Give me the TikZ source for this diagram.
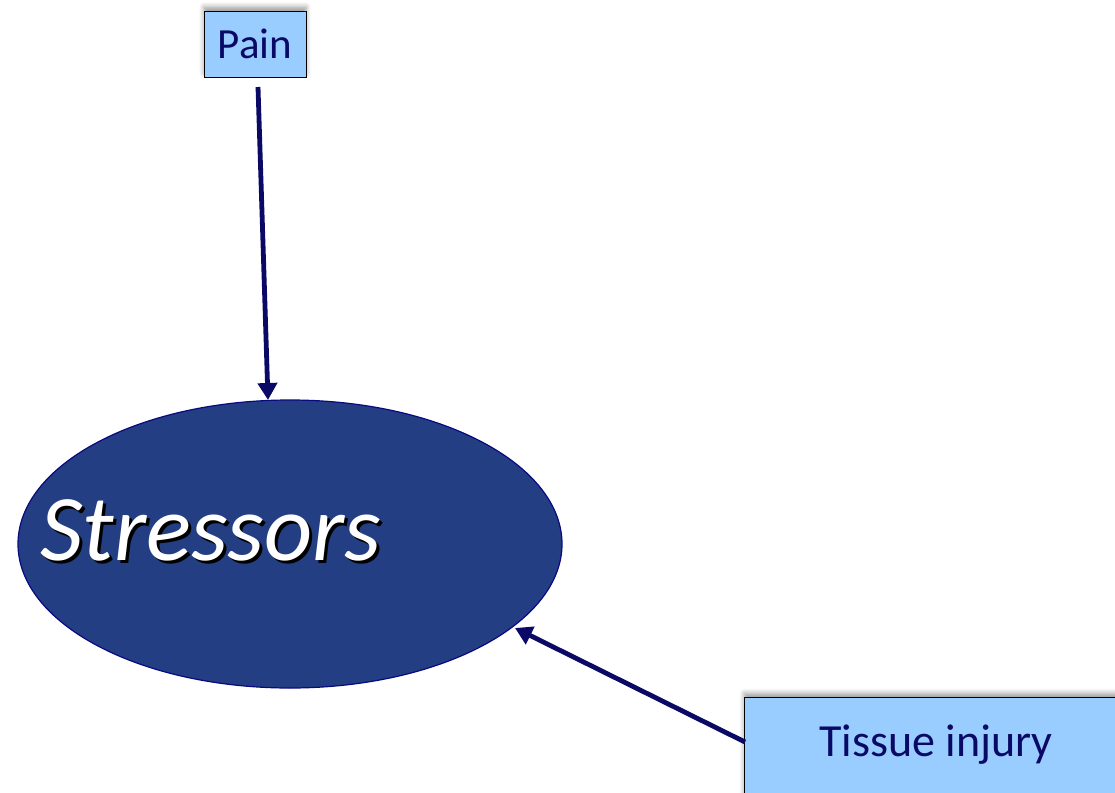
\documentclass[tikz,border=0pt]{standalone}
\usepackage{fontspec}
\setmainfont{Carlito}
\usetikzlibrary{arrows.meta,shadows.blur}
\definecolor{boxblue}{HTML}{99CCFF}
\definecolor{navytext}{HTML}{0A0A66}
\definecolor{ellfill}{HTML}{233E82}
\definecolor{ellline}{HTML}{0A0A80}
\definecolor{arrowcol}{HTML}{0A0A66}
\tikzset{
  labelbox/.style={draw=black, line width=0.8pt, fill=boxblue, text=navytext,
    blur shadow={shadow xshift=0pt, shadow yshift=4pt, shadow blur steps=6, shadow blur radius=5pt, shadow opacity=40}},
  link/.style={draw=arrowcol, line width=4.8pt, -{Triangle[length=17pt,width=19pt]}}
}
\begin{document}
\begin{tikzpicture}[x=1pt,y=-1pt]
\useasboundingbox (0,0) rectangle (1115,792);
% Pain box
\node[labelbox, minimum width=102pt, minimum height=66pt, inner sep=0pt,
  font=\fontsize{43}{46}\selectfont] (pain) at (255,44) {Pain};
% Tissue injury box (extends past the right and bottom edges)
\begin{scope}
\clip (0,0) rectangle (1115,792);
\node[labelbox, anchor=north west, minimum width=420pt, minimum height=120pt, inner sep=0pt] (tissuebox) at (744,697) {};
\end{scope}
\node[text=navytext, anchor=base, font=\fontsize{46}{50}\selectfont, inner sep=0pt] (tissue) at (936,756) {Tissue injury};
% Stressors ellipse
\draw[draw=ellline, fill=ellfill, line width=1.2pt] (290,544) ellipse [x radius=272, y radius=144];
\coordinate (stressTop) at (268,400);
\coordinate (stressSide) at (515,628);
\node[anchor=base west, inner sep=0pt, text=white, font=\fontsize{94}{98}\selectfont\itshape] (stress) at (40,560)
  {\rlap{\hspace{3pt}\raisebox{-3pt}{\color{black}Stressors}}Stressors};
% connectors
\coordinate (painOut) at (258,87);
\coordinate (tissueOut) at (745,742);
\draw[link] (painOut) -- (stressTop);
\draw[link] (tissueOut) -- (stressSide);
\end{tikzpicture}
\end{document}
